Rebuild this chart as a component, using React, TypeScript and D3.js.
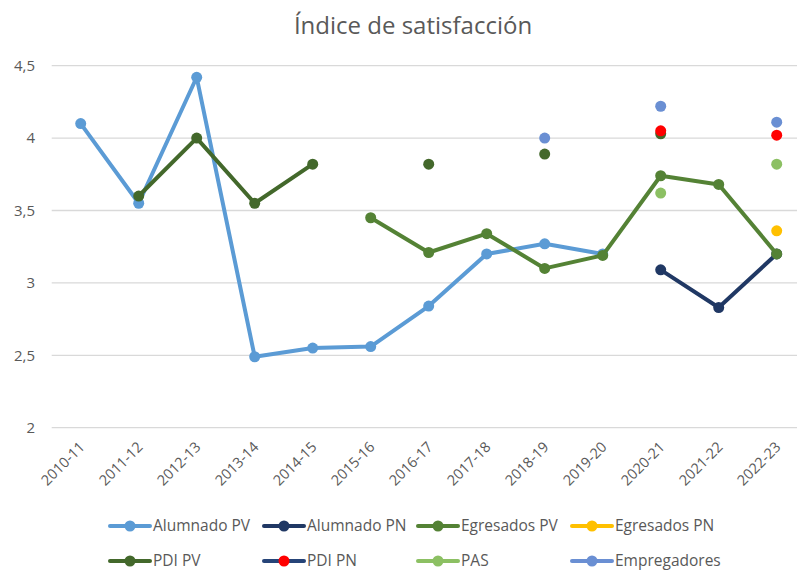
import React from "react";
import * as d3 from "d3";

const categories = ["2010-11","2011-12","2012-13","2013-14","2014-15","2015-16","2016-17","2017-18","2018-19","2019-20","2020-21","2021-22","2022-23"];
const yTicks = [2, 2.5, 3, 3.5, 4, 4.5];

const alumnadoPV = [4.1, 3.55, 4.42, 2.49, 2.55, 2.56, 2.84, 3.2, 3.27, 3.2, null, null, null];
const alumnadoPN = [null, null, null, null, null, null, null, null, null, null, 3.09, 2.83, 3.2];
const egresadosPV = [null, null, null, null, null, 3.45, 3.21, 3.34, 3.1, 3.19, 3.74, 3.68, 3.2];
const egresadosPN = [null, null, null, null, null, null, null, null, null, null, null, null, 3.36];
const pdiPV = [null, 3.6, 4.0, 3.55, 3.82, null, 3.82, null, 3.89, null, 4.03, null, null];
const pdiPN = [null, null, null, null, null, null, null, null, null, null, 4.05, null, 4.02];
const pas = [null, null, null, null, null, null, null, null, null, null, 3.62, null, 3.82];
const empregadores = [null, null, null, null, null, null, null, null, 4.0, null, 4.22, null, 4.11];

type S = { name: string; values: (number | null)[]; line: string; marker: string };
const series: S[] = [
  { name: "Alumnado PV", values: alumnadoPV, line: "#5B9BD5", marker: "#5B9BD5" },
  { name: "Alumnado PN", values: alumnadoPN, line: "#203864", marker: "#203864" },
  { name: "Egresados PV", values: egresadosPV, line: "#548235", marker: "#548235" },
  { name: "Egresados PN", values: egresadosPN, line: "#FFC000", marker: "#FFC000" },
  { name: "PDI PV", values: pdiPV, line: "#43682B", marker: "#43682B" },
  { name: "PDI PN", values: pdiPN, line: "#264478", marker: "#FF0000" },
  { name: "PAS", values: pas, line: "#8CC063", marker: "#8CC063" },
  { name: "Empregadores", values: empregadores, line: "#6A8FD3", marker: "#6A8FD3" },
];

const W = 797, H = 572;
const FONT = "'Open Sans', sans-serif";
const TXT = "#595959";

export default function App() {
  const plotLeft = 51.7, step = 58, plotRight = plotLeft + step * categories.length;
  const x = d3.scaleBand<string>().domain(categories).range([plotLeft, plotRight]).padding(0);
  const cx = (c: string) => (x(c) as number) + x.bandwidth() / 2;
  const y = d3.scaleLinear().domain([2, 4.5]).range([427.7, 65.7]);

  const legendX = [110, 264, 418, 572];
  const legendY = [526, 561];

  return (
    <svg width={W} height={H} style={{ position: "absolute", left: 0, top: 0, background: "#fff" }} fontFamily={FONT}>
      <rect width={W} height={H} fill="#fff" />
      <text x={413} y={34} textAnchor="middle" fontSize={24} fill={TXT}>Índice de satisfacción</text>
      {yTicks.map(t => (
        <g key={t}>
          <line x1={plotLeft} x2={plotRight} y1={y(t)} y2={y(t)} stroke="#D9D9D9" strokeWidth={1.3} />
          <text x={35} y={y(t)} dy="0.35em" textAnchor="end" fontSize={15} fill={TXT}>{String(t).replace(".", ",")}</text>
        </g>
      ))}
      {categories.map(c => (
        <text key={c} transform={`translate(${cx(c) + 5},${448}) rotate(-45)`} textAnchor="end" fontSize={14.5} fill={TXT}>{c}</text>
      ))}
      {series.map(s => {
        const pts = s.values.map((v, i) => ({ v, c: categories[i] }));
        const line = d3.line<{ v: number | null; c: string }>()
          .defined(d => d.v !== null)
          .x(d => cx(d.c))
          .y(d => y(d.v as number));
        return (
          <g key={s.name}>
            <path d={line(pts) || ""} fill="none" stroke={s.line} strokeWidth={4} strokeLinejoin="round" strokeLinecap="round" />
            {pts.filter(p => p.v !== null).map(p => (
              <circle key={p.c} cx={cx(p.c)} cy={y(p.v as number)} r={5.5} fill={s.marker} />
            ))}
          </g>
        );
      })}
      {series.map((s, i) => {
        const lx = legendX[i % 4], ly = legendY[Math.floor(i / 4)];
        return (
          <g key={"lg" + s.name}>
            <line x1={lx} x2={lx + 40} y1={ly} y2={ly} stroke={s.line} strokeWidth={4} strokeLinecap="round" />
            <circle cx={lx + 20} cy={ly} r={5.5} fill={s.marker} />
            <text x={lx + 43} y={ly} dy="0.35em" fontSize={15.5} fill={TXT}>{s.name}</text>
          </g>
        );
      })}
    </svg>
  );
}
